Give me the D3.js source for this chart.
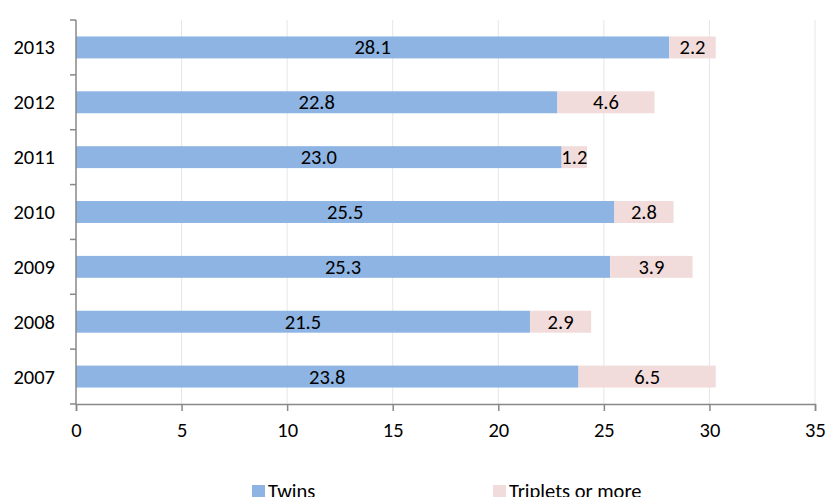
<!DOCTYPE html>
<html>
<head>
<meta charset="utf-8">
<script src="https://cdn.jsdelivr.net/npm/d3@7"></script>
<style>
  body { margin: 0; background: #fff; }
  text { font-family: Carlito, Lato, "Open Sans", sans-serif; fill: #000; }
</style>
</head>
<body>
<svg id="chart" width="826" height="497"></svg>
<script>
// data
var years = ["2007", "2008", "2009", "2010", "2011", "2012", "2013"];
var twins = [23.8, 21.5, 25.3, 25.5, 23.0, 22.8, 28.1];
var triplets = [6.5, 2.9, 3.9, 2.8, 1.2, 4.6, 2.2];
var seriesNames = ["Twins", "Triplets or more"];
var xTicks = [0, 5, 10, 15, 20, 25, 30, 35];

var colors = ["#8DB4E2", "#F2DCDB"];
var fs = "20.5px";

var svg = d3.select("#chart");
var plotL = 76, plotR = 815, plotT = 20, plotB = 404;

var x = d3.scaleLinear().domain([0, 35]).range([plotL, plotR]);
// 2013 at the top
var y = d3.scaleBand()
    .domain(years.slice().reverse())
    .range([plotT, plotB])
    .paddingInner(0.6)
    .paddingOuter(0.3);

// gridlines
svg.append("g")
  .selectAll("line")
  .data(xTicks.slice(1))
  .enter().append("line")
    .attr("x1", function(d) { return x(d); })
    .attr("x2", function(d) { return x(d); })
    .attr("y1", plotT)
    .attr("y2", plotB)
    .attr("stroke", "#E6E6E6")
    .attr("stroke-width", 1);

// stacked rows
var rows = years.map(function(yr, i) {
  return { year: yr, vals: [twins[i], triplets[i]] };
});

rows.forEach(function(r) {
  var start = 0;
  r.vals.forEach(function(v, k) {
    var x0 = x(start), x1 = x(start + v);
    svg.append("rect")
      .attr("x", x0)
      .attr("y", y(r.year))
      .attr("width", x1 - x0)
      .attr("height", y.bandwidth())
      .attr("fill", colors[k]);
    svg.append("text")
      .attr("x", (x0 + x1) / 2)
      .attr("y", y(r.year) + y.bandwidth() / 2)
      .attr("dy", "0.34em")
      .attr("text-anchor", "middle")
      .style("font-size", fs)
      .text(v.toFixed(1));
    start += v;
  });
});

// x axis
var xAxis = svg.append("g")
    .attr("transform", "translate(0," + plotB + ")")
    .call(d3.axisBottom(x).tickValues(xTicks).tickSize(7).tickPadding(11));
xAxis.selectAll("text").style("font-size", fs);
xAxis.select(".domain").attr("stroke", "#888").attr("stroke-width", 1.5);
xAxis.selectAll(".tick line").attr("stroke", "#888").attr("stroke-width", 1.5);

// y axis: ticks sit between categories, so draw them by hand from the band scale
var yAxis = svg.append("g");
yAxis.append("line")
  .attr("x1", plotL).attr("x2", plotL)
  .attr("y1", plotT).attr("y2", plotB)
  .attr("stroke", "#888").attr("stroke-width", 1.5);
var bounds = years.map(function(yr) { return y(yr) - y.step() * y.paddingInner() / 2; });
bounds.push(plotB);
yAxis.selectAll(".yt")
  .data(bounds)
  .enter().append("line")
    .attr("x1", plotL - 6).attr("x2", plotL)
    .attr("y1", function(d) { return d; })
    .attr("y2", function(d) { return d; })
    .attr("stroke", "#888").attr("stroke-width", 1.5);
yAxis.selectAll(".yl")
  .data(years)
  .enter().append("text")
    .attr("x", plotL - 21)
    .attr("y", function(d) { return y(d) + y.bandwidth() / 2; })
    .attr("dy", "0.34em")
    .attr("text-anchor", "end")
    .style("font-size", fs)
    .text(function(d) { return d; });

// legend (bottom edge of the picture cuts it, as in the original)
var legX = [252, 493];
var leg = svg.append("g");
seriesNames.forEach(function(name, k) {
  leg.append("rect")
    .attr("x", legX[k]).attr("y", 485)
    .attr("width", 13).attr("height", 13)
    .attr("fill", colors[k]);
  leg.append("text")
    .attr("x", legX[k] + 16).attr("y", 498)
    .style("font-size", fs)
    .text(name);
});
</script>
</body>
</html>
